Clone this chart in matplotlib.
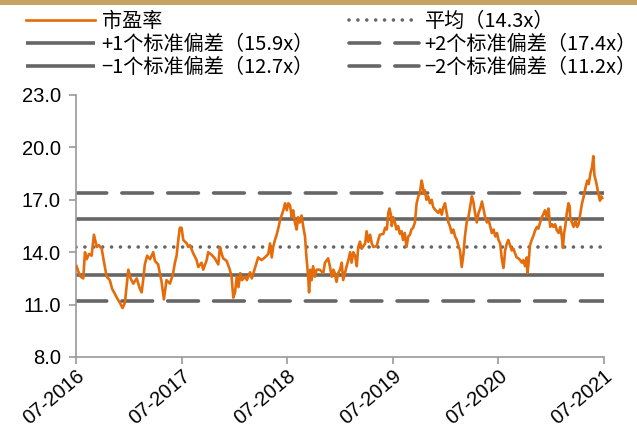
import matplotlib
matplotlib.use("Agg")
import matplotlib.pyplot as plt
import matplotlib.dates as mdates
from matplotlib.patches import Rectangle
import pandas as pd

plt.rcParams['font.family'] = ['Liberation Sans', 'Noto Sans CJK SC', 'DejaVu Sans']

# 市盈率 (PE) readings
pe_dates = [
    "2016-07-03", "2016-07-09", "2016-07-17", "2016-07-26", "2016-08-01", "2016-08-07",
    "2016-08-15", "2016-08-24", "2016-09-01", "2016-09-11", "2016-09-18", "2016-09-28",
    "2016-10-03", "2016-10-15", "2016-10-26", "2016-11-03", "2016-11-13", "2016-11-19",
    "2016-11-30", "2016-12-09", "2016-12-17", "2016-12-29", "2017-01-06", "2017-01-15",
    "2017-01-27", "2017-02-07", "2017-02-13", "2017-02-19", "2017-02-24", "2017-03-04",
    "2017-03-14", "2017-03-25", "2017-03-31", "2017-04-11", "2017-04-23", "2017-05-01",
    "2017-05-10", "2017-05-22", "2017-06-02", "2017-06-08", "2017-06-14", "2017-06-19",
    "2017-06-25",
    "2017-07-01", "2017-07-07", "2017-07-19", "2017-07-24", "2017-07-30", "2017-08-10",
    "2017-08-22", "2017-08-28", "2017-09-08", "2017-09-14", "2017-09-26", "2017-10-01",
    "2017-10-13", "2017-10-24", "2017-11-05", "2017-11-11", "2017-11-17", "2017-11-22",
    "2017-12-04", "2017-12-15", "2017-12-21", "2017-12-27", "2018-01-02", "2018-01-08",
    "2018-01-14", "2018-01-20", "2018-01-26", "2018-02-06", "2018-02-12", "2018-02-23",
    "2018-03-01", "2018-03-13", "2018-03-23", "2018-04-04", "2018-04-15", "2018-04-27",
    "2018-05-03", "2018-05-09", "2018-05-14", "2018-05-20", "2018-05-26", "2018-06-01",
    "2018-06-07", "2018-06-18", "2018-06-24", "2018-06-30",
    "2018-07-05", "2018-07-11", "2018-07-17", "2018-07-22", "2018-07-28", "2018-08-03",
    "2018-08-08", "2018-08-14", "2018-08-20", "2018-08-26", "2018-09-01", "2018-09-06",
    "2018-09-12", "2018-09-15", "2018-09-20", "2018-09-24", "2018-09-29", "2018-10-05",
    "2018-10-11", "2018-10-22", "2018-11-03", "2018-11-09", "2018-11-20", "2018-11-26",
    "2018-12-02", "2018-12-08", "2018-12-13", "2018-12-19", "2018-12-25", "2018-12-31",
    "2019-01-06", "2019-01-11", "2019-01-17", "2019-01-23", "2019-01-29", "2019-02-04",
    "2019-02-09", "2019-02-15", "2019-02-21", "2019-02-27", "2019-03-04", "2019-03-10",
    "2019-03-16", "2019-03-28", "2019-04-02", "2019-04-08", "2019-04-14", "2019-04-20",
    "2019-04-25", "2019-05-07", "2019-05-13", "2019-05-18", "2019-05-30", "2019-06-05",
    "2019-06-11", "2019-06-16", "2019-06-20", "2019-06-25", "2019-06-28",
    "2019-07-03", "2019-07-09", "2019-07-14", "2019-07-20", "2019-07-26", "2019-08-01",
    "2019-08-06", "2019-08-12", "2019-08-18", "2019-08-24", "2019-08-30", "2019-09-04",
    "2019-09-10", "2019-09-16", "2019-09-22", "2019-09-28", "2019-10-03", "2019-10-09",
    "2019-10-12", "2019-10-17", "2019-10-20", "2019-10-26", "2019-11-01", "2019-11-07",
    "2019-11-13", "2019-11-18", "2019-11-24", "2019-11-30", "2019-12-06", "2019-12-12",
    "2019-12-18", "2019-12-23", "2019-12-29", "2020-01-04", "2020-01-10", "2020-01-15",
    "2020-01-21", "2020-01-27", "2020-02-02", "2020-02-08", "2020-02-13", "2020-02-19",
    "2020-02-25", "2020-03-02", "2020-03-07", "2020-03-13", "2020-03-19", "2020-03-25",
    "2020-03-31", "2020-04-05", "2020-04-11", "2020-04-17", "2020-04-23", "2020-04-29",
    "2020-05-05", "2020-05-10", "2020-05-16", "2020-05-22", "2020-05-28", "2020-06-03",
    "2020-06-08", "2020-06-14", "2020-06-20", "2020-06-26",
    "2020-07-01", "2020-07-07", "2020-07-12", "2020-07-18", "2020-07-21", "2020-07-24",
    "2020-07-30", "2020-08-04", "2020-08-10", "2020-08-16", "2020-08-22", "2020-08-27",
    "2020-09-02", "2020-09-08", "2020-09-14", "2020-09-20", "2020-09-25", "2020-10-01",
    "2020-10-07", "2020-10-09", "2020-10-13", "2020-10-18", "2020-10-24", "2020-10-30",
    "2020-11-05", "2020-11-11", "2020-11-16", "2020-11-22", "2020-11-28", "2020-12-04",
    "2020-12-09", "2020-12-15", "2020-12-21", "2020-12-27", "2021-01-02", "2021-01-07",
    "2021-01-13", "2021-01-19", "2021-01-25", "2021-01-31", "2021-02-05", "2021-02-09",
    "2021-02-13", "2021-02-17", "2021-02-22", "2021-02-28", "2021-03-04", "2021-03-06",
    "2021-03-12", "2021-03-18", "2021-03-24", "2021-03-30", "2021-04-04", "2021-04-10",
    "2021-04-16", "2021-04-22", "2021-04-28", "2021-05-04", "2021-05-09", "2021-05-15",
    "2021-05-21", "2021-05-25", "2021-05-29", "2021-06-04", "2021-06-11", "2021-06-17",
    "2021-06-22", "2021-06-25",
]
pe_values = [
    13.2, 12.9, 12.6, 12.5, 14.0, 13.6,
    13.9, 13.8, 15.0, 14.3, 14.4, 14.2,
    13.7, 12.6, 12.4, 11.9, 11.6, 11.4,
    11.1, 10.8, 11.1, 13.0, 12.5, 12.2,
    12.5, 11.9, 11.7, 12.5, 13.3, 13.8,
    13.6, 14.0, 13.5, 13.3, 12.3, 11.3,
    12.4, 12.2, 12.8, 13.4, 13.8, 14.6,
    15.4,
    15.4, 14.7, 14.5, 14.3, 14.4, 13.95,
    13.55, 13.15, 13.4, 13.0, 13.55, 14.0,
    13.85, 13.65, 13.3, 14.3, 13.9, 13.65,
    13.5, 13.0, 12.6, 11.4, 11.7, 12.6,
    12.0, 12.8, 12.4, 12.6, 12.4, 12.85,
    12.5, 13.15, 13.7, 13.55, 13.7, 13.9,
    14.5, 13.7, 14.3, 14.7, 15.0, 15.4,
    15.85, 16.4, 16.8, 16.4,
    16.8, 16.7, 16.0, 16.4, 15.7, 15.3,
    16.0, 15.7, 16.1, 15.45, 14.9, 13.7,
    12.6, 11.7, 13.0, 12.4, 13.2, 12.6,
    13.0, 13.0, 12.8, 13.4, 13.65, 13.2,
    12.6, 13.0, 12.8, 12.3, 12.8, 13.0,
    13.4, 12.4, 12.8, 13.2, 13.55, 14.0,
    13.4, 14.0, 13.8, 13.2, 14.3, 14.6,
    14.2, 14.5, 15.2, 14.6, 15.0, 14.5,
    14.3, 14.35, 14.75, 15.0, 15.05, 15.4,
    15.3, 16.25, 16.5, 16.15, 15.5,
    16.0, 15.7, 15.3, 15.5, 15.05, 15.2,
    14.7, 15.1, 14.3, 14.9, 15.0, 15.3,
    15.4, 15.7, 16.8, 17.2, 17.35, 18.1,
    17.9, 17.35, 17.55, 17.0, 17.2, 16.8,
    17.0, 16.6, 16.45, 16.35, 16.25, 16.45,
    16.15, 16.55, 16.8, 16.25, 15.7, 15.5,
    15.1, 15.3, 14.9, 14.7, 14.4, 14.1,
    13.15, 13.9, 14.9, 15.7, 16.0, 16.6,
    17.2, 16.9, 16.25, 15.7, 16.25, 16.5,
    16.9, 16.5, 16.0, 15.7, 15.85, 15.45,
    15.1, 15.3, 14.9, 15.1,
    14.7, 14.5, 13.7, 13.1, 13.5, 14.1,
    14.5, 14.7, 14.4, 14.1, 14.2, 13.95,
    13.7, 13.65, 13.55, 13.4, 13.55, 13.2,
    13.7, 12.8, 13.35, 14.4, 14.7, 14.95,
    15.25, 15.45, 15.35, 15.7, 16.0, 16.2,
    16.4, 16.0, 16.5, 15.45, 15.6, 15.45,
    15.6, 15.25, 15.1, 15.45, 14.9, 14.25,
    15.1, 15.45, 16.2, 16.8, 16.65, 16.0,
    15.7, 15.45, 15.8, 15.45, 15.6, 16.2,
    16.8, 17.2, 17.7, 18.1, 17.9, 18.5,
    18.9, 19.5, 18.4, 18.0, 17.4, 16.95,
    17.2, 17.1,
]

mean_pe = 14.3
plus1, plus2 = 15.9, 17.4
minus1, minus2 = 12.7, 11.2

tick_dates = ["2016-07-01", "2017-07-01", "2018-07-01", "2019-07-01", "2020-07-01", "2021-07-01"]

ORANGE = "#E46C0A"
GREY = "#666666"
CJK = ['Noto Sans CJK SC', 'DejaVu Sans']

dates = pd.to_datetime(pe_dates)
ticks = pd.to_datetime(tick_dates)

fig = plt.figure(figsize=(6.37, 4.32), dpi=100)
ax = fig.add_axes([76 / 637, 1 - 357 / 432, 528 / 637, 262 / 432])

# band across the top edge
fig.patches.append(Rectangle((0, 1 - 5 / 432), 1, 5 / 432, transform=fig.transFigure,
                             facecolor="#C5A463", edgecolor="none", zorder=0))

line_kw = dict(color=GREY, lw=2.6, dash_capstyle="round", solid_capstyle="butt")
h_mean = ax.axhline(mean_pe, linestyle=(0, (0.01, 2.45)), **line_kw)
h_p1 = ax.axhline(plus1, linestyle="-", **line_kw)
h_m1 = ax.axhline(minus1, linestyle="-", **line_kw)
h_p2 = ax.axhline(plus2, linestyle=(0, (8.5, 4.2)), **line_kw)
h_m2 = ax.axhline(minus2, linestyle=(0, (8.5, 4.2)), **line_kw)
h_pe, = ax.plot(dates, pe_values, color=ORANGE, lw=1.9, zorder=3)

ax.set_xlim(ticks[0], ticks[-1])
ax.set_ylim(8, 23)
ax.set_yticks([8, 11, 14, 17, 20, 23])
ax.yaxis.set_major_formatter(plt.FormatStrFormatter("%.1f"))
ax.set_xticks(ticks)
ax.xaxis.set_major_formatter(mdates.DateFormatter("%m-%Y"))

for side in ("top", "right"):
    ax.spines[side].set_visible(False)
for side in ("left", "bottom"):
    ax.spines[side].set_color("#9A9A9A")
    ax.spines[side].set_linewidth(1.2)
ax.tick_params(axis="both", colors="#9A9A9A", labelcolor="black",
               direction="out", length=5, width=1.2)
ax.tick_params(axis="y", pad=6, labelsize=14.5)
ax.tick_params(axis="x", pad=2, labelsize=14.5)
plt.setp(ax.get_xticklabels(), rotation=40, ha="right", rotation_mode="anchor")

handles = [h_pe, h_p1, h_m1, h_mean, h_p2, h_m2]
labels = ["市盈率", "+1个标准偏差（15.9x）", "−1个标准偏差（12.7x）",
          "平均（14.3x）", "+2个标准偏差（17.4x）", "−2个标准偏差（11.2x）"]
fig.legend(handles, labels, ncol=2, loc="upper left", bbox_to_anchor=(26 / 637, 1 - 11 / 432),
           frameon=False, prop={"family": CJK, "size": 14.5},
           handlelength=3.45, handletextpad=0.3, labelspacing=0.1,
           columnspacing=1.75, borderpad=0, borderaxespad=0)

fig.savefig("out.png", dpi=100)
